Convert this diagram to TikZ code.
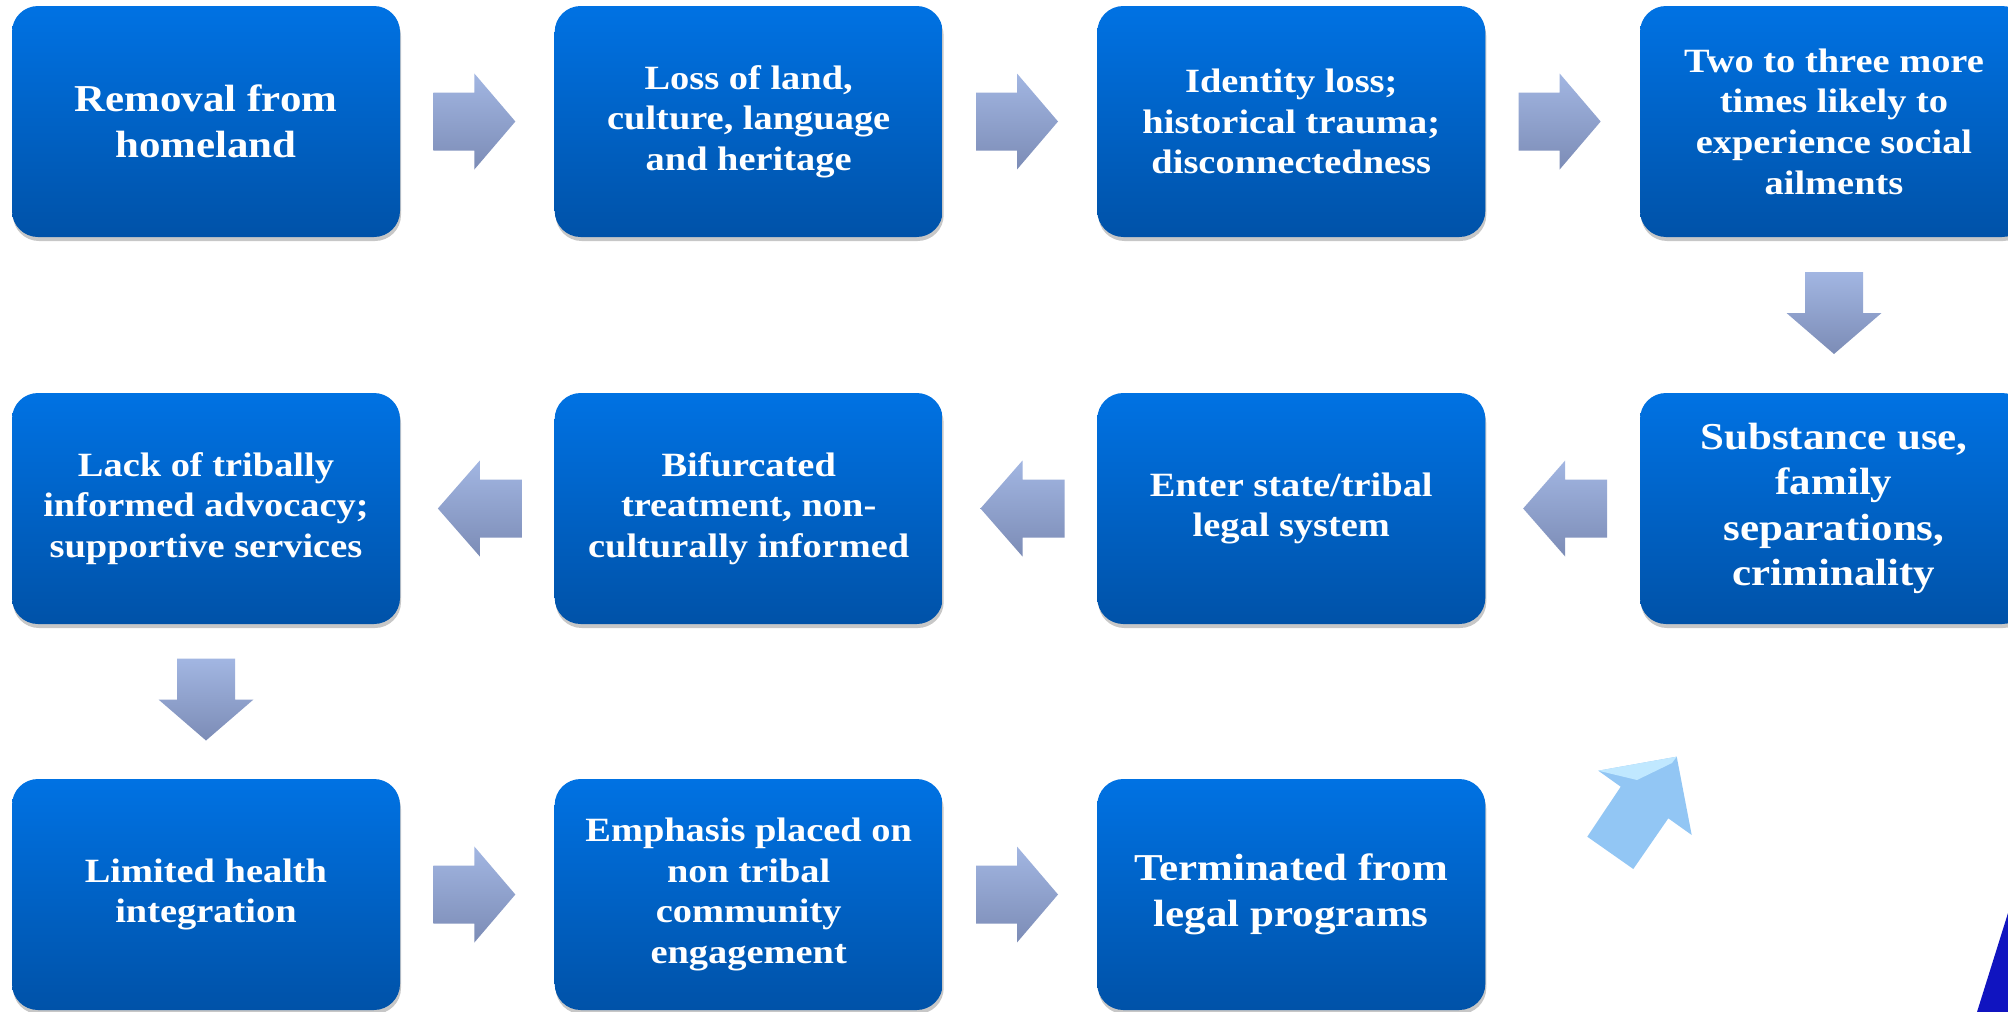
\documentclass[tikz,border=0pt]{standalone}
\usepackage{fontspec}
\setmainfont{Liberation Serif}[FakeStretch=1.13]
\usetikzlibrary{shadows,calc}
\definecolor{boxtop}{RGB}{0,114,227}
\definecolor{boxbot}{RGB}{0,82,168}
\definecolor{arrtop}{RGB}{162,182,226}
\definecolor{arrbot}{RGB}{124,140,182}
\definecolor{diagblue}{RGB}{146,198,244}
\definecolor{diaglight}{RGB}{192,232,255}
\definecolor{wedgeblue}{RGB}{16,20,192}
\tikzset{
  stepbox/.style={rectangle, rounded corners=26pt, minimum width=388pt,
    minimum height=231pt, inner sep=0pt, top color=boxtop, bottom color=boxbot,
    draw=none, text=white, align=center,
    font=\bfseries\fontsize{34}{40.7}\selectfont,
    drop shadow={shadow xshift=1pt, shadow yshift=-4pt, opacity=0.22, fill=black}},
  bigtext/.style={font=\bfseries\fontsize{38}{45.5}\selectfont},
  blockarrow/.style={top color=arrtop, bottom color=arrbot, draw=none},
}
\newcommand\rightblock[1]{\begin{scope}[shift={(#1)}]
  \path[blockarrow] (-41,-29) -- (0,-29) -- (0,-48) -- (41,0) -- (0,48) -- (0,29) -- (-41,29) -- cycle;
  \end{scope}}
\newcommand\leftblock[1]{\begin{scope}[shift={(#1)}]
  \path[blockarrow] (42,-29) -- (0,-29) -- (0,-48) -- (-42,0) -- (0,48) -- (0,29) -- (42,29) -- cycle;
  \end{scope}}
\newcommand\downblock[1]{\begin{scope}[shift={(#1)}]
  \path[blockarrow] (-29,-41) -- (29,-41) -- (29,0) -- (47.5,0) -- (0,41) -- (-47.5,0) -- (-29,0) -- cycle;
  \end{scope}}
\begin{document}
\begin{tikzpicture}[x=1pt,y=-1pt]
\useasboundingbox (0,0) rectangle (2008,1012);
\clip (0,0) rectangle (2008,1012);
\fill[white] (0,0) rectangle (2008,1012);

% row 1
\node[stepbox,bigtext] (b1) at (206,121.5) {Removal from\\homeland};
\node[stepbox] (b2) at (748.7,121.5) {Loss of land,\\culture, language\\and heritage};
\node[stepbox] (b3) at (1291.3,121.5) {Identity loss;\\historical trauma;\\disconnectedness};
\node[stepbox] (b4) at (1834,121.5) {Two to three more\\times likely to\\experience social\\ailments};
% row 2
\node[stepbox,bigtext] (b5) at (1834,508.5) {Substance use,\\family\\separations,\\criminality};
\node[stepbox] (b6) at (1291.3,508.5) {Enter state/tribal\\legal system};
\node[stepbox] (b7) at (748.7,508.5) {Bifurcated\\treatment, non-\\culturally informed};
\node[stepbox] (b8) at (206,508.5) {Lack of tribally\\informed advocacy;\\supportive services};
% row 3
\node[stepbox] (b9) at (206,894.5) {Limited health\\integration};
\node[stepbox] (b10) at (748.7,894.5) {Emphasis placed on\\non tribal\\community\\engagement};
\node[stepbox,bigtext] (b11) at (1291.3,894.5) {Terminated from\\legal programs};

% arrow positions
\coordinate (a12) at ($(b1.east)!0.5!(b2.west)+(-3,0)$);
\coordinate (a23) at ($(b2.east)!0.5!(b3.west)+(-3,0)$);
\coordinate (a34) at ($(b3.east)!0.5!(b4.west)+(-3,0)$);
\coordinate (a45) at ($(b4.south)!0.5!(b5.north)+(0,-2)$);
\coordinate (a56) at ($(b6.east)!0.5!(b5.west)+(2.5,0)$);
\coordinate (a67) at ($(b7.east)!0.5!(b6.west)+(2.5,0)$);
\coordinate (a78) at ($(b8.east)!0.5!(b7.west)+(2.5,0)$);
\coordinate (a89) at ($(b8.south)!0.5!(b9.north)+(0,-2)$);
\coordinate (a910) at ($(b9.east)!0.5!(b10.west)+(-3,0)$);
\coordinate (a1011) at ($(b10.east)!0.5!(b11.west)+(-3,0)$);

\rightblock{a12}
\rightblock{a23}
\rightblock{a34}
\downblock{a45}
\leftblock{a56}
\leftblock{a67}
\leftblock{a78}
\downblock{a89}
\rightblock{a910}
\rightblock{a1011}

% diagonal light-blue arrow
\fill[diagblue] (1676.7,756.7) -- (1691.7,835) -- (1668.3,818.3) -- (1633.3,869)
  -- (1587.3,836.7) -- (1620.7,786.7) -- (1598.3,770.7) -- cycle;
\fill[diaglight] (1598.3,770.7) -- (1676.7,756.7) -- (1672,763) -- (1637,780) -- cycle;

% dark blue wedge at the corner
\fill[wedgeblue] (2008,913) -- (1977,1012) -- (2008,1012) -- cycle;
\end{tikzpicture}
\end{document}
